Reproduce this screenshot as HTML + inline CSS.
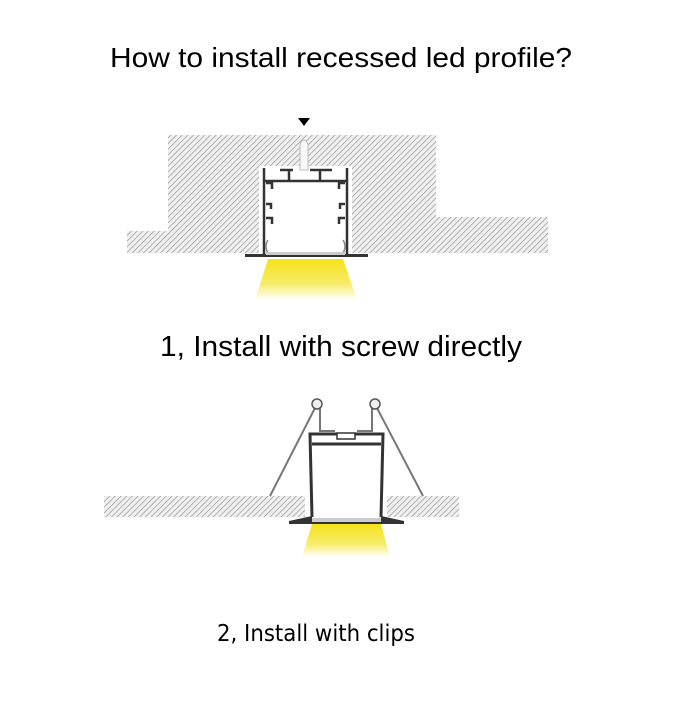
<!DOCTYPE html>
<html><head><style>html,body{margin:0;padding:0;background:#fff}</style></head>
<body>
<svg width="700" height="700" viewBox="0 0 700 700" xmlns="http://www.w3.org/2000/svg">
<defs>
<pattern id="h" width="4" height="4" patternUnits="userSpaceOnUse" patternTransform="rotate(45)">
<rect width="4" height="4" fill="#f0f0f0"/><line x1="0" y1="0" x2="0" y2="4" stroke="#8f8f8f" stroke-width="1.3"/>
</pattern>
<linearGradient id="y" x1="0" y1="0" x2="0" y2="1">
<stop offset="0" stop-color="#f4e21a"/><stop offset="0.6" stop-color="#f7ec6a"/><stop offset="1" stop-color="#fff"/>
</linearGradient>
</defs>
<rect width="700" height="700" fill="#fff"/>
<text x="341" y="67" font-family="Liberation Sans, sans-serif" font-size="28" text-anchor="middle" textLength="462" lengthAdjust="spacingAndGlyphs">How to install recessed led profile?</text>

<!-- diagram 1 -->
<path d="M168,135 H436 V217 H548 V253 H127 V231 H168 Z" fill="url(#h)"/>
<rect x="259" y="166" width="93" height="87" fill="#fff"/>
<polygon points="298,118 310,118 304,126" fill="#000"/>
<path d="M300,170 V144 Q304,136 308,144 V170 Z" fill="#f8f8f8" stroke="#bbb"/>
<g fill="none" stroke="#333" stroke-width="2.5">
<path d="M264,255 V168 M347,255 V168"/>
<path d="M264,181 H347"/>
<path d="M280,170 H293 M289,170 V180 M310,170 H332 M320,170 V180"/>
<path d="M266,183 h6 v6 M345,183 h-6 v6 M266,204 h5 v5 M345,204 h-5 v5 M266,218 h6 v6 M345,218 h-6 v6"/>
</g>
<path d="M245,254 H368 V257 H245 Z" fill="#333"/>
<path d="M268,240 q-4,6 0,13 M343,240 q4,6 0,13" stroke="#888" fill="none" stroke-width="1.5"/>
<rect x="266" y="252" width="79" height="3" fill="#ccc"/>
<polygon points="268,259 343,259 357,300 255,300" fill="url(#y)"/>

<text x="341" y="356" font-family="Liberation Sans, sans-serif" font-size="29" text-anchor="middle" textLength="362" lengthAdjust="spacingAndGlyphs">1, Install with screw directly</text>

<!-- diagram 2 -->
<rect x="104" y="496" width="201" height="21" fill="url(#h)"/>
<rect x="387" y="496" width="72" height="21" fill="url(#h)"/>
<g stroke="#777" stroke-width="2" fill="none">
<line x1="315" y1="408" x2="270" y2="496"/><line x1="377" y1="408" x2="423" y2="496"/>
<path d="M320,408 V431 H335 M372,408 V431 H357"/>
</g>
<circle cx="317" cy="404" r="5" fill="#eee" stroke="#555" stroke-width="1.5"/>
<circle cx="375" cy="404" r="5" fill="#eee" stroke="#555" stroke-width="1.5"/>
<g fill="none" stroke="#333" stroke-width="3">
<path d="M312,517 L310,434 H383 L381,517"/>
<path d="M312,444 H381"/>
</g>
<rect x="337" y="433" width="18" height="6" fill="#fff" stroke="#333" stroke-width="1.5"/>
<path d="M289,521 L312,516 V520 H381 V516 L404,521 V524 H289 Z" fill="#333"/>
<rect x="312" y="518" width="69" height="4" fill="#ccc"/>
<polygon points="312,524 381,524 390,557 302,557" fill="url(#y)"/>

<text x="316" y="641" font-family="DejaVu Sans Condensed, DejaVu Sans, sans-serif" font-size="23" text-anchor="middle" textLength="198" lengthAdjust="spacingAndGlyphs">2, Install with clips</text>
</svg>
</body></html>
